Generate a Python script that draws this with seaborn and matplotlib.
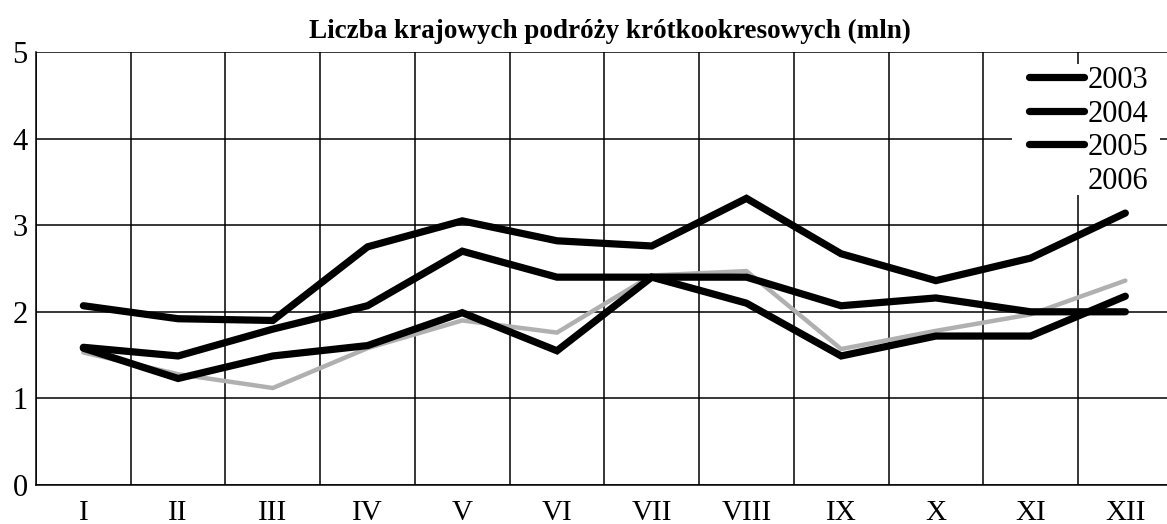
import matplotlib
matplotlib.use("Agg")
import matplotlib.pyplot as plt
from matplotlib.lines import Line2D
from matplotlib.patches import Rectangle
from matplotlib.ticker import MultipleLocator, FixedLocator
import seaborn as sns
import pandas as pd
import numpy as np

months = ['I', 'II', 'III', 'IV', 'V', 'VI', 'VII', 'VIII', 'IX', 'X', 'XI', 'XII']
years = ['2003', '2004', '2005', '2006']
v2003 = [2.07, 1.92, 1.90, 2.75, 3.05, 2.82, 2.76, 3.31, 2.67, 2.36, 2.62, 3.14]
v2004 = [1.59, 1.49, 1.80, 2.07, 2.70, 2.40, 2.40, 2.40, 2.07, 2.16, 2.00, 2.00]
v2005 = [1.58, 1.23, 1.49, 1.61, 1.99, 1.55, 2.40, 2.10, 1.49, 1.72, 1.72, 2.18]
v2006 = [1.53, 1.28, 1.12, 1.58, 1.90, 1.76, 2.42, 2.47, 1.57, 1.78, 1.97, 2.36]
title = 'Liczba krajowych podróży krótkookresowych (mln)'

df = pd.DataFrame({
    'month': months * 4,
    'value': v2003 + v2004 + v2005 + v2006,
    'year': sum([[y] * len(months) for y in years], []),
})

sns.set_theme(style='white')
plt.rcParams['font.family'] = ['Liberation Serif', 'DejaVu Serif']

fig = plt.figure(figsize=(11.67, 5.24), dpi=100)
ax = fig.add_axes([36 / 1167, 1 - 485 / 524, 1 - 36 / 1167, (485 - 52) / 524])

styles = {
    '2003': dict(color='black', lw=5.2),
    '2004': dict(color='black', lw=5.2),
    '2005': dict(color='black', lw=5.2),
    '2006': dict(color='#b0b0b0', lw=3.2),
}
x_pos = {m: i for i, m in enumerate(months)}
df['x'] = df['month'].map(x_pos)

# draw 2006 first (it sits beneath the black lines in places)
for y in ['2006', '2005', '2004', '2003']:
    sub = df[df['year'] == y]
    sns.lineplot(data=sub, x='x', y='value', ax=ax, color=styles[y]['color'],
                 linewidth=styles[y]['lw'], solid_capstyle='round',
                 solid_joinstyle='miter', legend=False, zorder=3)

ax.set_xlim(-0.5, 11.44)
ax.set_ylim(0, 5)
ax.xaxis.set_major_locator(FixedLocator(range(len(months))))
ax.set_xticklabels(months)
ax.xaxis.set_minor_locator(FixedLocator(np.arange(-0.5, 12, 1.0)))
ax.yaxis.set_major_locator(MultipleLocator(1))
ax.set_xlabel('')
ax.set_ylabel('')

ax.grid(False)
for v in range(0, 6):
    ax.axhline(v, color='black', lw=1.1, zorder=1)
ax.grid(True, which='minor', axis='x', color='black', lw=1.1, zorder=1)

for s in ['top', 'right']:
    ax.spines[s].set_visible(False)
ax.spines['left'].set_color('black')
ax.spines['left'].set_linewidth(1.1)
ax.spines['bottom'].set_color('black')
ax.spines['bottom'].set_linewidth(1.1)

ax.tick_params(axis='x', which='both', length=0, pad=11, labelsize=21, colors='black')
ax.tick_params(axis='y', which='both', length=0, pad=6, labelsize=22, colors='black')

# white area behind the legend that interrupts the grid, as in the original
ax.add_patch(Rectangle((1012 / 1167, 1 - 195 / 524), 148 / 1167, 131 / 524,
                       transform=fig.transFigure, facecolor='white',
                       edgecolor='none', zorder=2))

handles = [
    Line2D([], [], color='black', lw=5.2, solid_capstyle='round'),
    Line2D([], [], color='black', lw=5.2, solid_capstyle='round'),
    Line2D([], [], color='black', lw=5.2, solid_capstyle='round'),
    Line2D([], [], color='white', lw=0),
]
leg = ax.legend(handles, years, loc='upper right', frameon=False, fontsize=22,
                labelspacing=0.15, handlelength=1.8, handletextpad=0.12,
                borderaxespad=0.0, borderpad=0.0)
leg.set_bbox_to_anchor((1148 / 1167, 1 - 66 / 524), transform=fig.transFigure)
for t in leg.get_texts():
    t.set_color('black')

fig.text(610 / 1167, 1 - 31 / 524, title, ha='center', va='center',
         fontsize=19.5, fontweight='bold', color='black')

fig.savefig('out.png', dpi=100, facecolor='white')
